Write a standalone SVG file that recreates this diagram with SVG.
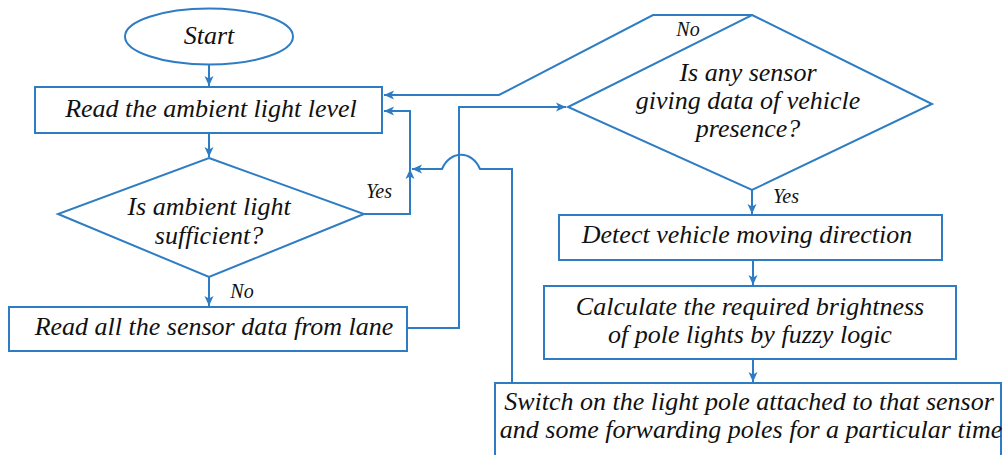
<svg xmlns="http://www.w3.org/2000/svg" width="1003" height="455" viewBox="0 0 1003 455">
<defs>
<style>
.s{fill:#fff;stroke:#2E7DC4;stroke-width:2}
.c{fill:none;stroke:#2E7DC4;stroke-width:2}
text{font-family:'Liberation Serif','Times New Roman',serif;font-style:italic;fill:#111;font-size:26px;text-anchor:middle}
.l{font-size:20px}
</style>
<marker id="a" viewBox="0 0 10 10" refX="10" refY="5" markerWidth="10" markerHeight="10" markerUnits="userSpaceOnUse" orient="auto">
<path d="M0,0.5 L10,5 L0,9.5 L2.5,5 Z" fill="#2E7DC4"/>
</marker>
</defs>
<rect width="1003" height="455" fill="#fff"/>
<g id="connectors">
<path class="c" d="M209,65 V86" marker-end="url(#a)"/>
<path class="c" d="M209,133 V157" marker-end="url(#a)"/>
<path class="c" d="M209,277 V306" marker-end="url(#a)"/>
<path class="c" d="M364,214 H410 V169" marker-end="url(#a)"/>
<path class="c" d="M410,169 V111 H384" marker-end="url(#a)"/>
<path class="c" d="M512,383 V169 H480 C472,150 450,150 442,169 H412" marker-end="url(#a)"/>
<path class="c" d="M407,328 H459 V107 H566" marker-end="url(#a)"/>
<path class="c" d="M752,15 H653 L499,95 H384" marker-end="url(#a)"/>
<path class="c" d="M752,190 V214" marker-end="url(#a)"/>
<path class="c" d="M753,260 V285" marker-end="url(#a)"/>
<path class="c" d="M753,359 V382" marker-end="url(#a)"/>
<text class="l" x="379" y="198">Yes</text>
<text class="l" x="242" y="298">No</text>
<text class="l" x="688" y="36">No</text>
<text class="l" x="786" y="203">Yes</text>
</g>
<g id="start">
<ellipse class="s" cx="209" cy="36.5" rx="84" ry="28"/>
<text x="209" y="44">Start</text>
</g>
<g id="read-ambient">
<rect class="s" x="35" y="87" width="347" height="46"/>
<text x="211" y="117">Read the ambient light level</text>
</g>
<g id="is-ambient">
<polygon class="s" points="209,158 364,214 209,277 58,214"/>
<text x="209" y="215">Is ambient light</text>
<text x="209" y="244">sufficient?</text>
</g>
<g id="read-sensor">
<rect class="s" x="9" y="307" width="398" height="44"/>
<text x="214" y="335">Read all the sensor data from lane</text>
</g>
<g id="is-sensor">
<polygon class="s" points="752,15 932,104 752,190 568,107"/>
<text x="748" y="81">Is any sensor</text>
<text x="748" y="109">giving data of vehicle</text>
<text x="748" y="137">presence?</text>
</g>
<g id="detect">
<rect class="s" x="559" y="215" width="383" height="45"/>
<text x="747" y="243">Detect vehicle moving direction</text>
</g>
<g id="calculate">
<rect class="s" x="544" y="286" width="412" height="73"/>
<text x="750" y="315">Calculate the required brightness</text>
<text x="750" y="343">of pole lights by fuzzy logic</text>
</g>
<g id="switch">
<rect class="s" x="495" y="383" width="506" height="80"/>
<text x="749" y="410">Switch on the light pole attached to that sensor</text>
<text x="751" y="438">and some forwarding poles for a particular time</text>
</g>
</svg>
